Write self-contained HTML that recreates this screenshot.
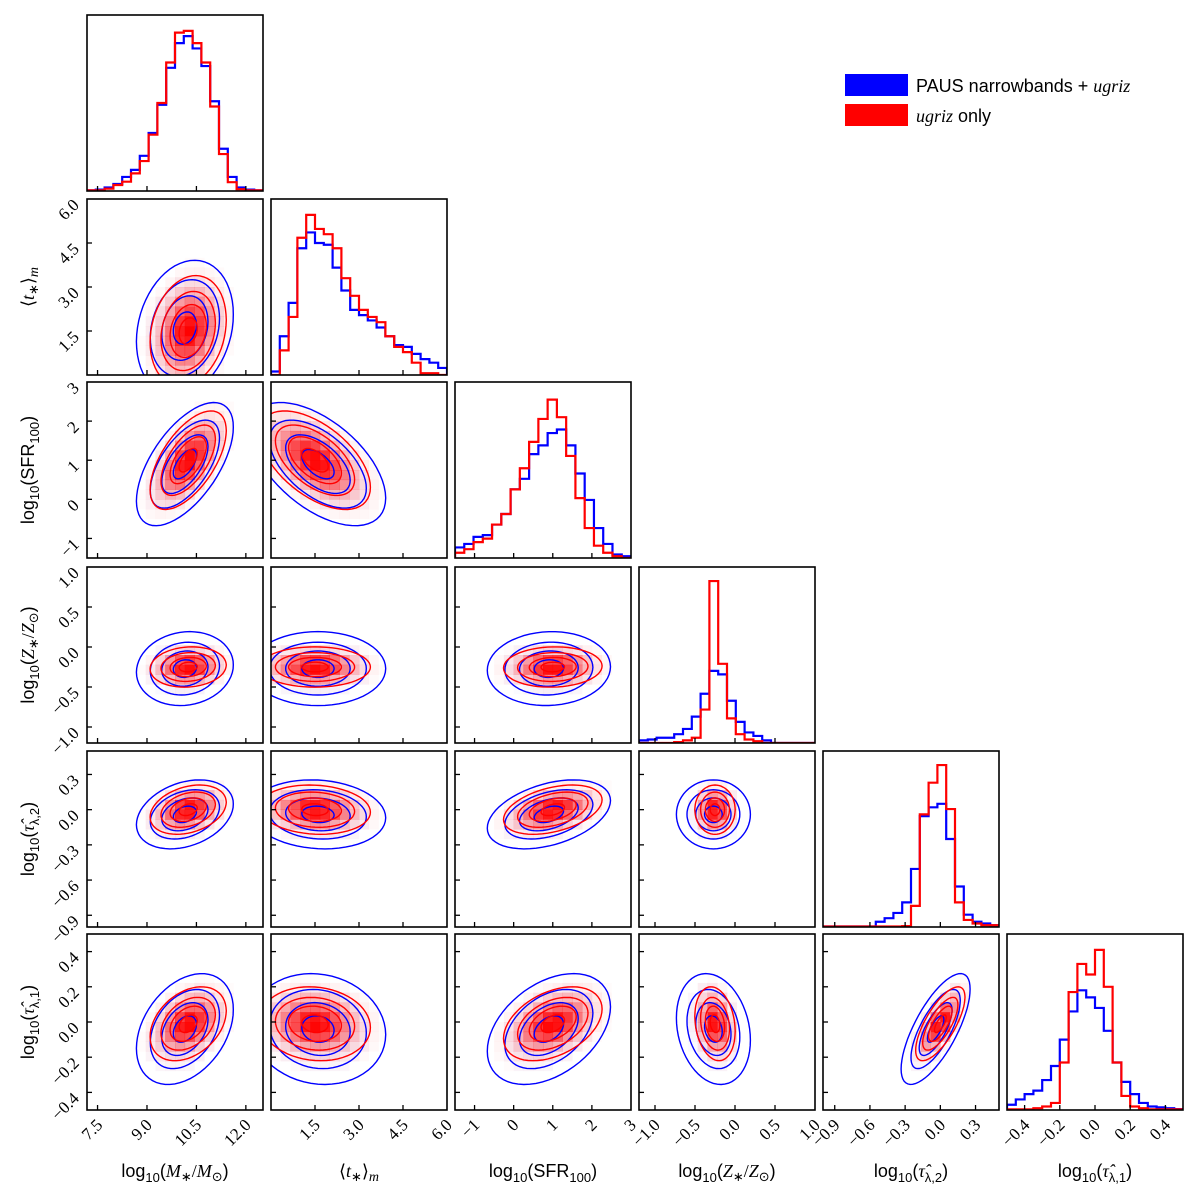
<!DOCTYPE html>
<html><head><meta charset="utf-8"><style>
html,body{margin:0;padding:0;background:#fff;}
svg{display:block;}
.tk{font-family:"Liberation Serif","DejaVu Serif",serif;font-size:17px;fill:#000;}
.ti{font-family:"Liberation Sans","DejaVu Sans",sans-serif;font-size:18px;fill:#000;}
.lg{font-family:"Liberation Sans","DejaVu Sans",sans-serif;font-size:18px;fill:#000;}
</style></head><body>
<svg id="chart" width="1200" height="1198" viewBox="0 0 1200 1198" xmlns="http://www.w3.org/2000/svg">
<g id="marks"></g>
<g>
<rect x="845" y="74" width="63" height="22" fill="#0000ff"/>
<text class="lg" x="916" y="92">PAUS narrowbands + <tspan font-style="italic" font-family="Liberation Serif">ugriz</tspan></text>
<rect x="845" y="104" width="63" height="22" fill="#ff0000"/>
<text class="lg" x="916" y="122"><tspan font-style="italic" font-family="Liberation Serif">ugriz</tspan> only</text>
</g>
</svg>
<script>
// ---- data ----
const varNames = ["mass","tage","sfr","zmet","tau2","tau1"];
const axisLo = [7.18, 0.0, -1.5, -1.2, -1.0, -0.5];
const axisHi = [12.52, 6.0, 3.0, 1.0, 0.5, 0.5];
const tickMass = [7.5, 9.0, 10.5, 12.0];
const tickTage = [1.5, 3.0, 4.5, 6.0];
const tickSfr = [-1, 0, 1, 2, 3];
const tickZ = [-1.0, -0.5, 0.0, 0.5, 1.0];
const tickTau2 = [-0.9, -0.6, -0.3, 0.0, 0.3];
const tickTau1 = [-0.4, -0.2, 0.0, 0.2, 0.4];
const tickDigits = [1, 1, 0, 1, 1, 1];
// histogram heights (fraction of panel height), bins across axis range
const histBlueMass = [0.004,0.008,0.02,0.04,0.08,0.12,0.20,0.33,0.49,0.70,0.84,0.88,0.81,0.71,0.51,0.24,0.08,0.02,0.008,0.004];
const histRedMass  = [0.004,0.004,0.013,0.034,0.053,0.10,0.17,0.32,0.50,0.73,0.90,0.91,0.84,0.73,0.48,0.21,0.05,0.01,0.004,0.004];
const histBlueTage = [0.02,0.22,0.41,0.72,0.81,0.75,0.74,0.61,0.48,0.37,0.34,0.31,0.27,0.22,0.17,0.16,0.12,0.09,0.07,0.04];
const histRedTage  = [0.0,0.14,0.33,0.78,0.91,0.83,0.80,0.72,0.55,0.45,0.37,0.33,0.30,0.22,0.16,0.13,0.07,0.01,0.01,0.0];
const histBlueSfr  = [0.06,0.08,0.12,0.13,0.19,0.25,0.39,0.45,0.59,0.64,0.71,0.73,0.64,0.48,0.33,0.17,0.08,0.02,0.01];
const histRedSfr   = [0.03,0.05,0.09,0.11,0.19,0.25,0.39,0.51,0.66,0.79,0.90,0.80,0.58,0.34,0.17,0.07,0.03,0.01,0.0];
const histBlueZ    = [0.015,0.02,0.03,0.03,0.05,0.08,0.15,0.28,0.41,0.39,0.24,0.12,0.06,0.04,0.015,0,0,0,0,0];
const histRedZ     = [0,0,0,0,0.005,0.015,0.03,0.19,0.92,0.45,0.14,0.05,0.02,0.01,0,0,0,0,0,0];
const histBlueTau2 = [0.003,0.003,0.003,0.003,0.003,0.003,0.03,0.05,0.08,0.14,0.33,0.63,0.68,0.70,0.50,0.23,0.07,0.03,0.02,0.01];
const histRedTau2  = [0.003,0.003,0.003,0.003,0.003,0.003,0.003,0.003,0.003,0.005,0.12,0.64,0.82,0.92,0.67,0.14,0.04,0.02,0.01,0.01];
const histBlueTau1 = [0.03,0.06,0.09,0.11,0.17,0.25,0.40,0.56,0.68,0.64,0.58,0.45,0.27,0.16,0.09,0.04,0.02,0.015,0.01,0.005];
const histRedTau1  = [0.004,0.004,0.004,0.01,0.02,0.04,0.27,0.67,0.83,0.77,0.91,0.70,0.27,0.08,0.02,0.01,0.004,0.004,0.004,0.004];
// 2D blob summaries (per variable center / spread, pairwise correlation)
const centerBlue = [10.15, 1.6, 0.9, -0.27, -0.04, -0.04];
const centerRed  = [10.25, 1.5, 1.0, -0.25, 0.0, -0.01];
const spreadBlue = [0.70, 1.1, 0.75, 0.22, 0.14, 0.15];
const spreadRed  = [0.55, 0.9, 0.60, 0.12, 0.10, 0.10];
const corrRow1 = [0.2];
const corrRow2 = [0.6, -0.55];
const corrRow3 = [0.1, 0.0, 0.05];
const corrRow4 = [0.3, -0.1, 0.4, 0.0];
const corrRow5 = [0.35, -0.1, 0.4, -0.2, 0.72];
const contourLevels = [0.5, 1.0, 1.5, 2.1];

// ---- layout ----
const corrRows = [[], corrRow1, corrRow2, corrRow3, corrRow4, corrRow5];
const ticks = [tickMass, tickTage, tickSfr, tickZ, tickTau2, tickTau1];
const histBlue = [histBlueMass, histBlueTage, histBlueSfr, histBlueZ, histBlueTau2, histBlueTau1];
const histRed = [histRedMass, histRedTage, histRedSfr, histRedZ, histRedTau2, histRedTau1];
const colLeft = [87, 271, 455, 639, 823, 1007];
const rowTop = [15, 199, 382, 567, 751, 934];
const PW = 176, PH = 176;
const NS = "http://www.w3.org/2000/svg";
const root = document.getElementById('marks');

function mk(tag, attrs, parent) {
  const e = document.createElementNS(NS, tag);
  for (const k in attrs) e.setAttribute(k, attrs[k]);
  (parent || root).appendChild(e);
  return e;
}
function xs(v, c) { return colLeft[c] + (v - axisLo[c]) / (axisHi[c] - axisLo[c]) * PW; }
function ys(v, r) { return rowTop[r] + PH - (v - axisLo[r]) / (axisHi[r] - axisLo[r]) * PH; }
function fmt(v, d) { const s = v.toFixed(d); return s.replace('-', '−'); }

for (let r = 0; r < 6; r++) {
  for (let c = 0; c <= r; c++) {
    const g = mk('g', {});
    
    
    const clipId = 'clip' + r + c;
    const cp = mk('clipPath', { id: clipId }, g);
    mk('rect', { x: colLeft[c], y: rowTop[r], width: PW, height: PH }, cp);
    const inner = mk('g', { 'clip-path': 'url(#' + clipId + ')' }, g);
    if (r === c) {
      const series = [[histBlue[c], '#0000ff', 'hist-paus'], [histRed[c], '#ff0000', 'hist-ugriz']];
      for (const [h, col, nm] of series) {
        const n = h.length, bw = PW / n;
        let d = 'M' + colLeft[c] + ' ' + (rowTop[r] + PH);
        for (let i = 0; i < n; i++) {
          const yy = rowTop[r] + PH - h[i] * PH;
          d += ' L' + (colLeft[c] + i * bw) + ' ' + yy + ' L' + (colLeft[c] + (i + 1) * bw) + ' ' + yy;
        }
        d += ' L' + (colLeft[c] + PW) + ' ' + (rowTop[r] + PH);
        const p = mk('path', { d: d, fill: 'none', stroke: col, 'stroke-width': 2.2 }, inner);
        
        
      }
    } else {
      const rhoVal = corrRows[r][c];
      const sets = [[centerBlue, spreadBlue, '#0000ff', 0.07, 'paus'], [centerRed, spreadRed, '#ff0000', 1.0, 'ugriz']];
      const NC = 18;
      for (const [cen, sd, col, amax, nm] of sets) {
        const cells = mk('g', {}, inner);
        
        
        for (let i = 0; i < NC; i++) for (let j = 0; j < NC; j++) {
          const vx = axisLo[c] + (i + 0.5) / NC * (axisHi[c] - axisLo[c]);
          const vy = axisLo[r] + (j + 0.5) / NC * (axisHi[r] - axisLo[r]);
          const zx = (vx - cen[c]) / sd[c], zy = (vy - cen[r]) / sd[r];
          const q = (zx * zx - 2 * rhoVal * zx * zy + zy * zy) / (1 - rhoVal * rhoVal);
          const a = amax * Math.exp(-0.6 * q);
          if (a < 0.015) continue;
          const x0 = xs(axisLo[c] + i / NC * (axisHi[c] - axisLo[c]), c);
          const y1 = ys(axisLo[r] + (j + 1) / NC * (axisHi[r] - axisLo[r]), r);
          mk('rect', { x: x0, y: y1, width: PW / NC + 0.3, height: PH / NC + 0.3, fill: col, 'fill-opacity': a.toFixed(3) }, cells);
        }
      }
      for (const [cen, sd, col, amax, nm] of sets) {
        for (let k = 0; k < contourLevels.length; k++) {
          const rad = contourLevels[k];
          let d = '';
          for (let t = 0; t <= 60; t++) {
            const th = t / 60 * 2 * Math.PI;
            const vx = cen[c] + rad * sd[c] * Math.cos(th);
            const vy = cen[r] + rad * sd[r] * (rhoVal * Math.cos(th) + Math.sqrt(1 - rhoVal * rhoVal) * Math.sin(th));
            d += (t ? ' L' : 'M') + xs(vx, c).toFixed(1) + ' ' + ys(vy, r).toFixed(1);
          }
          const p = mk('path', { d: d + 'Z', fill: 'none', stroke: col, 'stroke-width': 1.4 }, inner);
          
          
        }
      }
    }
    const fr = mk('rect', { x: colLeft[c], y: rowTop[r], width: PW, height: PH, fill: 'none', stroke: '#000', 'stroke-width': 1.6 }, g);
    
    
    for (const tv of ticks[c]) {
      const tx = xs(tv, c);
      if (tx < colLeft[c] + 1 || tx > colLeft[c] + PW - 1) continue;
      mk('line', { x1: tx, x2: tx, y1: rowTop[r] + PH, y2: rowTop[r] + PH - 5, stroke: '#000', 'stroke-width': 1.3 }, g);
    }
    if (r !== c) {
      for (const tv of ticks[r]) {
        const ty = ys(tv, r);
        if (ty < rowTop[r] + 1 || ty > rowTop[r] + PH - 1) continue;
        mk('line', { x1: colLeft[c], x2: colLeft[c] + 5, y1: ty, y2: ty, stroke: '#000', 'stroke-width': 1.3 }, g);
      }
    }
    if (r === 5) {
      for (const tv of ticks[c]) {
        const tx = xs(tv, c);
        const t = mk('text', { class: 'tk', 'text-anchor': 'end', transform: 'translate(' + (tx + 6) + ',' + (rowTop[r] + PH + 16) + ') rotate(-45)' }, g);
        t.textContent = fmt(tv, tickDigits[c]);
        
        
      }
    }
    if (c === 0 && r > 0) {
      for (const tv of ticks[r]) {
        const ty = ys(tv, r);
        const t = mk('text', { class: 'tk', 'text-anchor': 'end', transform: 'translate(' + (colLeft[0] - 7) + ',' + (ty + 7) + ') rotate(-45)' }, g);
        t.textContent = fmt(tv, tickDigits[r]);
        
        
      }
    }
  }
}

const titleHtml = [
  'log<tspan font-size="13" dy="5">10</tspan><tspan dy="-5">(</tspan><tspan font-family="Liberation Serif" font-style="italic">M</tspan><tspan font-size="13" dy="4">∗</tspan><tspan dy="-4" font-family="Liberation Serif">/</tspan><tspan font-family="Liberation Serif" font-style="italic">M</tspan><tspan font-size="13" dy="4">⊙</tspan><tspan dy="-4">)</tspan>',
  '⟨<tspan font-family="Liberation Serif" font-style="italic">t</tspan><tspan font-size="13" dy="4">∗</tspan><tspan dy="-4">⟩</tspan><tspan font-family="Liberation Serif" font-style="italic" font-size="14" dy="4">m</tspan>',
  'log<tspan font-size="13" dy="5">10</tspan><tspan dy="-5">(SFR</tspan><tspan font-size="13" dy="5">100</tspan><tspan dy="-5">)</tspan>',
  'log<tspan font-size="13" dy="5">10</tspan><tspan dy="-5">(</tspan><tspan font-family="Liberation Serif" font-style="italic">Z</tspan><tspan font-size="13" dy="4">∗</tspan><tspan dy="-4" font-family="Liberation Serif">/</tspan><tspan font-family="Liberation Serif" font-style="italic">Z</tspan><tspan font-size="13" dy="4">⊙</tspan><tspan dy="-4">)</tspan>',
  'log<tspan font-size="13" dy="5">10</tspan><tspan dy="-5">(</tspan><tspan font-family="Liberation Serif" font-style="italic">τ̂</tspan><tspan font-size="13" dy="5">λ,2</tspan><tspan dy="-5">)</tspan>',
  'log<tspan font-size="13" dy="5">10</tspan><tspan dy="-5">(</tspan><tspan font-family="Liberation Serif" font-style="italic">τ̂</tspan><tspan font-size="13" dy="5">λ,1</tspan><tspan dy="-5">)</tspan>'
];
const svg = document.getElementById('chart');
for (let c = 0; c < 6; c++) {
  const t = mk('text', { class: 'ti', 'text-anchor': 'middle', x: colLeft[c] + PW / 2, y: 1177 }, svg);
  t.innerHTML = titleHtml[c];
  
  
}
for (let r = 1; r < 6; r++) {
  const cy = rowTop[r] + PH / 2;
  const t = mk('text', { class: 'ti', 'text-anchor': 'middle', transform: 'translate(34,' + cy + ') rotate(-90)' }, svg);
  t.innerHTML = titleHtml[r];
  
  
}
</script>
</body></html>
